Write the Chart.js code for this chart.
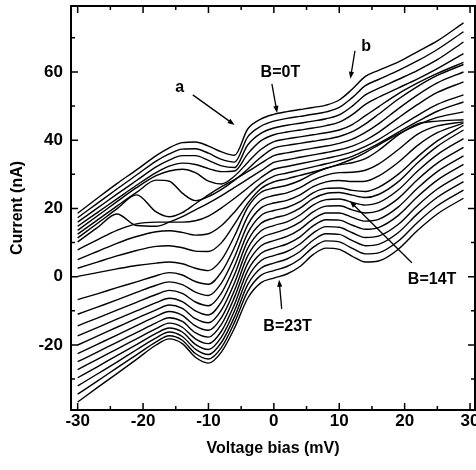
<!DOCTYPE html>
<html>
<head>
<meta charset="utf-8">
<title>I-V curves vs field</title>
<script src="https://cdn.jsdelivr.net/npm/chart.js@4.4.0/dist/chart.umd.min.js"></script>
<style>
  html, body { margin: 0; padding: 0; background: #fff; }
  #wrap { width: 476px; height: 470px; }
</style>
</head>
<body>
<div id="wrap"><canvas id="iv" width="476" height="470"></canvas></div>
<script>
/* ── DATA: voltage grid (mV) and current (nA) for each field, B = 0 … 23 T ── */
const volts = [-30, -27, -24, -21, -18, -16, -14, -12, -10, -8, -6, -4, -2, 0, 2, 4, 6, 8, 10, 12, 14, 16, 19, 22, 25, 29];

const b0T  = [18.6, 23.0, 27.3, 31.3, 35.5, 37.8, 39.3, 39.5, 38.3, 36.6, 35.6, 43.3, 46.2, 47.6, 48.4, 49.0, 49.6, 50.3, 51.8, 55.0, 58.7, 60.5, 62.9, 66.0, 69.1, 74.4];
const b1T  = [17.3, 21.5, 25.7, 29.8, 33.9, 36.0, 37.4, 37.5, 36.2, 34.4, 33.6, 41.0, 44.1, 45.6, 46.4, 47.0, 47.6, 48.3, 49.6, 52.5, 56.0, 57.8, 60.4, 63.3, 66.6, 71.8];
const b2T  = [16.0, 20.1, 24.2, 28.2, 32.2, 34.2, 35.5, 35.5, 34.1, 32.5, 32.0, 38.6, 42.0, 43.6, 44.4, 45.0, 45.6, 46.3, 47.4, 50.0, 53.3, 55.2, 57.8, 60.5, 63.6, 68.8];
const b3T  = [14.8, 18.8, 22.8, 26.8, 30.5, 32.4, 33.3, 32.9, 31.7, 30.8, 31.0, 36.0, 39.8, 41.6, 42.4, 43.0, 43.6, 44.3, 45.3, 47.5, 50.5, 52.6, 55.3, 58.0, 61.0, 65.4];
const b4T  = [13.6, 17.8, 22.0, 26.1, 29.6, 31.0, 31.5, 30.5, 28.0, 27.2, 29.5, 33.5, 37.3, 39.6, 40.4, 41.0, 41.6, 42.2, 43.0, 44.6, 47.2, 49.8, 53.6, 56.8, 59.6, 62.8];
const b5T  = [12.5, 16.6, 20.7, 24.7, 28.3, 28.0, 24.5, 22.3, 23.5, 25.6, 28.3, 31.5, 35.0, 37.7, 38.5, 39.1, 39.7, 40.3, 41.1, 42.5, 44.8, 47.6, 52.0, 55.8, 59.0, 62.2];
const b6T  = [11.4, 15.6, 19.9, 24.0, 19.0, 17.6, 18.8, 21.4, 24.0, 26.4, 28.5, 30.8, 33.2, 35.5, 36.3, 37.0, 37.7, 38.3, 39.1, 40.3, 42.3, 44.8, 49.2, 53.3, 56.8, 60.0];
const b7T  = [10.2, 14.4, 18.4, 15.0, 14.8, 16.0, 17.6, 19.6, 21.6, 23.8, 26.2, 28.6, 31.0, 33.5, 34.3, 35.0, 35.7, 36.4, 37.2, 38.3, 40.0, 42.3, 46.5, 50.5, 54.0, 57.1];
const b8T  = [7.9, 10.8, 13.6, 15.5, 16.0, 16.0, 16.0, 16.4, 17.8, 20.2, 23.0, 26.0, 29.0, 31.5, 32.3, 33.1, 33.9, 34.7, 35.5, 36.6, 38.2, 40.2, 43.8, 47.3, 50.5, 53.3];
const b9T  = [5.0, 7.4, 9.8, 11.8, 13.2, 13.5, 13.0, 12.2, 12.6, 15.0, 19.0, 23.5, 27.2, 29.5, 30.4, 31.3, 32.2, 33.1, 34.1, 35.3, 37.0, 39.0, 42.3, 45.5, 48.5, 51.2];
const b10T = [2.5, 4.3, 6.1, 7.7, 8.9, 9.1, 8.5, 7.5, 7.4, 10.0, 15.5, 21.5, 25.8, 27.8, 28.7, 29.7, 30.7, 31.8, 33.0, 34.5, 36.4, 38.6, 41.8, 44.5, 46.7, 48.3];
const b11T = [0.1, 1.2, 2.3, 3.3, 4.0, 4.3, 3.8, 2.5, 1.8, 5.0, 12.0, 20.3, 24.7, 26.0, 26.8, 28.2, 30.2, 31.8, 32.8, 33.4, 34.6, 37.0, 41.5, 44.8, 45.6, 46.0];
const b12T = [-6.7, -5.0, -3.2, -1.5, 0.3, 1.2, 0.5, -1.4, -2.2, 1.4, 8.7, 17.7, 22.4, 23.8, 24.6, 26.1, 28.3, 29.8, 30.5, 30.6, 31.2, 33.0, 37.2, 41.8, 44.2, 45.4];
const b13T = [-11.0, -8.9, -6.8, -4.6, -2.5, -1.5, -2.3, -4.5, -5.5, -1.8, 5.8, 15.2, 20.1, 21.6, 22.4, 24.0, 26.4, 27.8, 28.2, 27.9, 28.0, 29.5, 33.5, 38.5, 42.2, 45.0];
const b14T = [-14.4, -12.1, -9.8, -7.5, -5.2, -4.0, -4.9, -7.4, -8.5, -4.7, 3.2, 12.8, 17.9, 19.4, 20.3, 22.0, 24.6, 25.9, 26.0, 25.3, 25.0, 26.2, 30.0, 35.2, 39.8, 44.4];
const b15T = [-17.3, -14.9, -12.4, -10.0, -7.6, -6.3, -7.3, -10.0, -11.2, -7.3, 0.7, 10.5, 15.6, 17.2, 18.2, 20.1, 22.9, 24.4, 24.7, 23.9, 23.2, 24.1, 27.8, 33.4, 38.2, 43.0];
const b16T = [-20.0, -17.4, -14.8, -12.2, -9.7, -8.3, -9.3, -12.3, -13.5, -9.7, -1.7, 8.3, 13.4, 15.0, 16.1, 18.1, 21.0, 22.6, 22.8, 21.8, 21.0, 21.7, 25.4, 31.0, 35.8, 40.5];
const b17T = [-22.5, -19.8, -17.1, -14.3, -11.6, -10.2, -11.3, -14.4, -15.7, -11.9, -3.9, 6.1, 11.2, 12.8, 14.0, 16.0, 19.0, 20.7, 20.8, 19.6, 18.7, 19.3, 22.9, 28.5, 33.3, 37.9];
const b18T = [-24.9, -22.1, -19.2, -16.4, -13.5, -12.0, -13.1, -16.4, -17.7, -13.9, -5.9, 3.9, 9.0, 10.6, 11.8, 13.9, 16.9, 18.7, 18.7, 17.4, 16.3, 16.8, 20.4, 26.0, 30.8, 35.4];
const b19T = [-27.2, -24.2, -21.2, -18.2, -15.2, -13.6, -14.8, -18.2, -19.6, -15.9, -8.0, 1.8, 6.8, 8.4, 9.6, 11.7, 14.9, 16.7, 16.6, 15.1, 13.9, 14.4, 17.9, 23.5, 28.3, 32.9];
const b20T = [-29.6, -26.4, -23.1, -19.9, -16.6, -15.0, -16.2, -19.8, -21.3, -17.6, -9.9, -0.3, 4.7, 6.2, 7.4, 9.6, 12.8, 14.7, 14.5, 12.9, 11.5, 11.9, 15.3, 20.9, 25.7, 30.3];
const b21T = [-32.0, -28.5, -25.0, -21.4, -17.9, -16.2, -17.5, -21.2, -22.8, -19.2, -11.7, -2.3, 2.5, 4.0, 5.2, 7.4, 10.7, 12.6, 12.4, 10.6, 9.1, 9.5, 12.9, 18.5, 23.3, 27.9];
const b22T = [-34.4, -30.6, -26.7, -22.9, -19.1, -17.3, -18.6, -22.5, -24.1, -20.7, -13.3, -4.3, 0.4, 1.8, 3.0, 5.2, 8.6, 10.5, 10.2, 8.3, 6.7, 7.0, 10.4, 16.0, 20.8, 25.4];
const b23T = [-36.7, -32.5, -28.4, -24.2, -20.0, -18.2, -19.6, -23.6, -25.3, -22.0, -15.0, -6.3, -1.8, -0.4, 0.8, 3.0, 6.5, 8.4, 8.0, 6.0, 4.3, 4.6, 8.0, 13.6, 18.4, 23.0];

const fieldCurves = [b0T, b1T, b2T, b3T, b4T, b5T, b6T, b7T, b8T, b9T, b10T, b11T,
                     b12T, b13T, b14T, b15T, b16T, b17T, b18T, b19T, b20T, b21T, b22T, b23T];

/* ── TICKS ── */
const xTicks = [-30, -20, -10, 0, 10, 20, 30];
const xMinor = [-25, -15, -5, 5, 15, 25];
const yTicks = [-20, 0, 20, 40, 60];
const yMinor = [-30, -10, 10, 30, 50, 70];

/* ── LABELS (text, anchor, arrow from -> to), in data units ── */
const notes = [
    { text: "a",     at: [-14.4, 55.4], from: [-12.4, 53.3], to: [-6.0, 44.5] },
    { text: "B=0T",  at: [1.0, 59.8],   from: [-0.3, 56.5],  to: [0.5, 48.0] },
    { text: "b",     at: [14.1, 67.3],  from: [12.4, 66.2],  to: [11.7, 58.0] },
    { text: "B=14T", at: [24.2, -0.9],  from: [21.1, 4.1],   to: [11.6, 22.2] },
    { text: "B=23T", at: [2.1, -14.6],  from: [1.2, -9.4],   to: [0.8, -0.9] }
];

const FONT = "'Liberation Sans', Arial, Helvetica, sans-serif";

/* ── FRAME, INWARD TICKS AND ANNOTATIONS ── */
const framePlugin = {
    id: "frame",
    afterDatasetsDraw(chart) {
        const { ctx, chartArea: a, scales: { x, y } } = chart;
        ctx.save();
        ctx.strokeStyle = "#000";
        ctx.fillStyle = "#000";

        // box
        ctx.lineWidth = 2;
        ctx.strokeRect(a.left, a.top, a.right - a.left, a.bottom - a.top);

        // ticks on all four sides, pointing in
        ctx.lineWidth = 1.5;
        const tickX = (v, len) => {
            const px = x.getPixelForValue(v);
            ctx.beginPath();
            ctx.moveTo(px, a.bottom); ctx.lineTo(px, a.bottom - len);
            ctx.moveTo(px, a.top);    ctx.lineTo(px, a.top + len);
            ctx.stroke();
        };
        const tickY = (v, len) => {
            const py = y.getPixelForValue(v);
            ctx.beginPath();
            ctx.moveTo(a.left, py);  ctx.lineTo(a.left + len, py);
            ctx.moveTo(a.right, py); ctx.lineTo(a.right - len, py);
            ctx.stroke();
        };
        xTicks.forEach(v => tickX(v, 7));
        xMinor.forEach(v => tickX(v, 4));
        yTicks.forEach(v => tickY(v, 7));
        yMinor.forEach(v => tickY(v, 4));

        // labels with arrows
        ctx.font = "bold 16px " + FONT;
        ctx.textAlign = "center";
        ctx.textBaseline = "middle";
        ctx.lineWidth = 1.3;
        notes.forEach(n => {
            ctx.fillText(n.text, x.getPixelForValue(n.at[0]), y.getPixelForValue(n.at[1]));
            const x1 = x.getPixelForValue(n.from[0]), y1 = y.getPixelForValue(n.from[1]);
            const x2 = x.getPixelForValue(n.to[0]),   y2 = y.getPixelForValue(n.to[1]);
            const ang = Math.atan2(y2 - y1, x2 - x1);
            const head = 7, half = 2.6;
            ctx.beginPath();
            ctx.moveTo(x1, y1);
            ctx.lineTo(x2 - Math.cos(ang) * head * 0.8, y2 - Math.sin(ang) * head * 0.8);
            ctx.stroke();
            ctx.beginPath();
            ctx.moveTo(x2, y2);
            ctx.lineTo(x2 - Math.cos(ang) * head - Math.sin(ang) * half, y2 - Math.sin(ang) * head + Math.cos(ang) * half);
            ctx.lineTo(x2 - Math.cos(ang) * head + Math.sin(ang) * half, y2 - Math.sin(ang) * head - Math.cos(ang) * half);
            ctx.closePath();
            ctx.fill();
        });
        ctx.restore();
    }
};

/* ── CHART ── */
const datasets = fieldCurves.map((cur, i) => ({
    label: "B=" + i + "T",
    data: volts.map((v, k) => ({ x: v, y: cur[k] })),
    borderColor: "#000",
    borderWidth: 1.4,
    pointRadius: 0,
    fill: false,
    cubicInterpolationMode: "monotone"
}));

new Chart(document.getElementById("iv"), {
    type: "line",
    data: { datasets },
    options: {
        responsive: false,
        animation: false,
        devicePixelRatio: 1,
        layout: { padding: { top: 6, right: 1, left: 0, bottom: 0 } },
        plugins: { legend: { display: false }, tooltip: { enabled: false } },
        scales: {
            x: {
                type: "linear",
                min: -31.02, max: 30.76,
                grid: { display: false, drawTicks: false },
                border: { display: false },
                afterBuildTicks: s => { s.ticks = xTicks.map(v => ({ value: v })); },
                afterFit: s => { s.height = 60; s.paddingLeft = 0; s.paddingRight = 0; },
                ticks: { color: "#000", font: { family: FONT, size: 17, weight: "bold" }, padding: 1, maxRotation: 0, autoSkip: false },
                title: { display: true, text: "Voltage bias (mV)", color: "#000",
                         font: { family: FONT, size: 16, weight: "bold" }, padding: { top: 0, bottom: 12 } }
            },
            y: {
                type: "linear",
                min: -39.05, max: 79.34,
                grid: { display: false, drawTicks: false },
                border: { display: false },
                afterBuildTicks: s => { s.ticks = yTicks.map(v => ({ value: v })); },
                afterFit: s => { s.width = 71; s.paddingTop = 0; s.paddingBottom = 0; },
                ticks: { color: "#000", font: { family: FONT, size: 17, weight: "bold" }, padding: 8, autoSkip: false },
                title: { display: true, text: "Current (nA)", color: "#000",
                         font: { family: FONT, size: 16, weight: "bold" }, padding: { top: 8, bottom: 0 } }
            }
        }
    },
    plugins: [framePlugin]
});
</script>
</body>
</html>
